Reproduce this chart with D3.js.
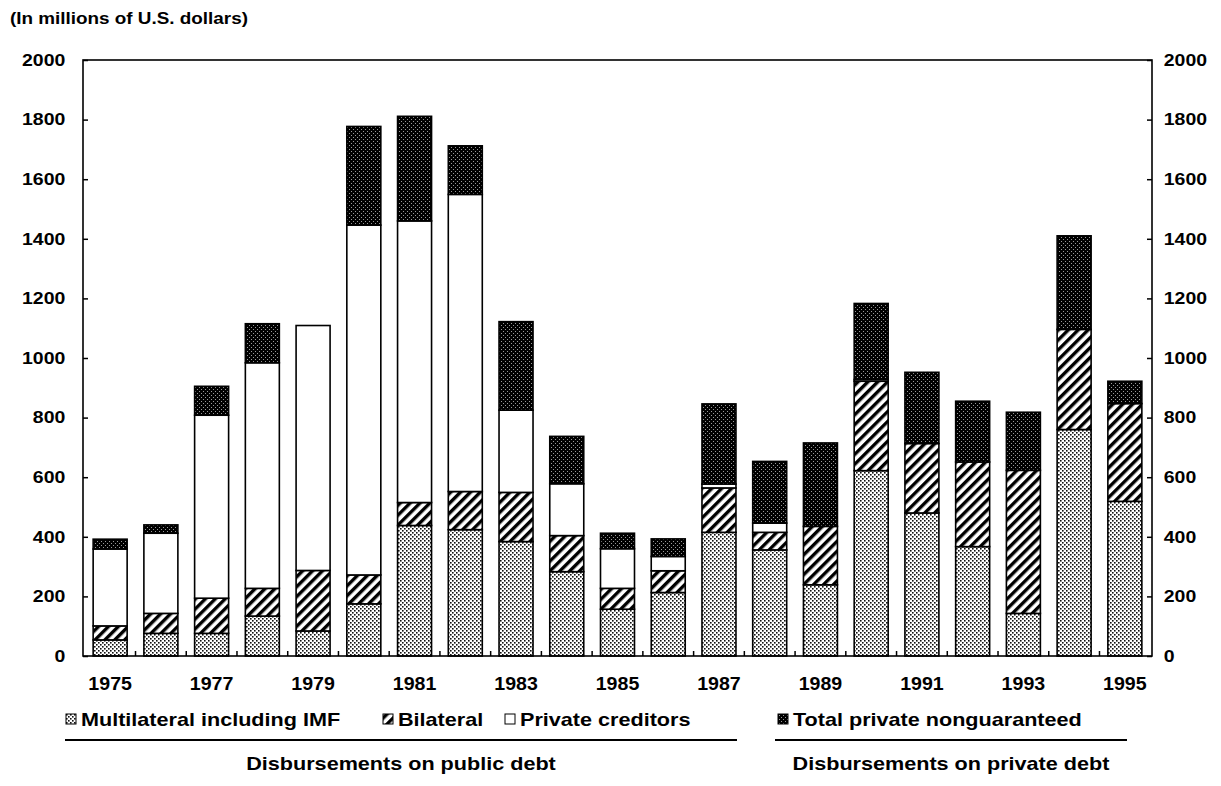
<!DOCTYPE html>
<html>
<head>
<meta charset="utf-8">
<script src="https://cdn.jsdelivr.net/npm/d3@7"></script>
<style>
  html, body { margin: 0; padding: 0; background: #fff; }
  svg { display: block; }
  text { font-family: "Liberation Sans", Arial, sans-serif; font-weight: bold; fill: #000; }
</style>
</head>
<body>
<svg id="chart" width="1221" height="786"></svg>
<script>
// Disbursements by year, in millions of U.S. dollars
const years = d3.range(1975, 1996);
const multilateral = [54, 76, 76, 134, 84, 175, 438, 424, 384, 283, 157, 213, 415, 356, 239, 622, 480, 367, 143, 760, 519];
const bilateral    = [47, 67, 118, 93, 203, 97, 77, 128, 165, 121, 70, 73, 149, 59, 196, 300, 233, 284, 480, 336, 328];
const privateCred  = [258, 269, 614, 757, 822, 1174, 945, 997, 276, 174, 133, 48, 13, 31, 0, 6, 0, 0, 0, 0, 0];
const nonguaranteed = [33, 28, 97, 131, 0, 331, 351, 163, 297, 159, 52, 59, 269, 207, 280, 255, 239, 204, 195, 314, 75];

const seriesKeys = ["multi", "bil", "priv", "ng"];
const seriesNames = ["Multilateral including IMF", "Bilateral", "Private creditors", "Total private nonguaranteed"];
const yTicks = d3.range(0, 2001, 200);
const yearLabels = years.filter(y => y % 2 === 1);
const groupLabels = ["Disbursements on public debt", "Disbursements on private debt"];

const rows = years.map((yr, i) => ({
  year: yr, multi: multilateral[i], bil: bilateral[i], priv: privateCred[i], ng: nonguaranteed[i]
}));

const svg = d3.select("#chart");
const SX = 1.18; // horizontal stretch of the lettering

// Plot frame
const plotL = 83, plotR = 1152, plotT = 60, plotB = 656;

const x = d3.scaleBand().domain(years).range([plotL, plotR]).paddingInner(0.33).paddingOuter(0.2);
const y = d3.scaleLinear().domain([0, 2000]).range([plotB, plotT]);

// Fill patterns
const defs = svg.append("defs");
const pMulti = defs.append("pattern").attr("id", "pMulti").attr("patternUnits", "userSpaceOnUse")
  .attr("width", 4).attr("height", 4);
pMulti.append("rect").attr("width", 4).attr("height", 4).attr("fill", "#fff");
pMulti.append("rect").attr("x", 0).attr("y", 0).attr("width", 1.6).attr("height", 1.6).attr("fill", "#111");
pMulti.append("rect").attr("x", 2).attr("y", 2).attr("width", 1.6).attr("height", 1.6).attr("fill", "#111");

const pBil = defs.append("pattern").attr("id", "pBil").attr("patternUnits", "userSpaceOnUse")
  .attr("width", 7).attr("height", 7).attr("patternTransform", "rotate(45)");
pBil.append("rect").attr("width", 7).attr("height", 7).attr("fill", "#fff");
pBil.append("rect").attr("width", 3.4).attr("height", 7).attr("fill", "#000");

const pNg = defs.append("pattern").attr("id", "pNg").attr("patternUnits", "userSpaceOnUse")
  .attr("width", 4).attr("height", 4);
pNg.append("rect").attr("width", 4).attr("height", 4).attr("fill", "#000");
pNg.append("rect").attr("x", 1).attr("y", 1).attr("width", 1).attr("height", 1).attr("fill", "#fff").attr("opacity", 0.6);
pNg.append("rect").attr("x", 3).attr("y", 3).attr("width", 1).attr("height", 1).attr("fill", "#fff").attr("opacity", 0.6);

const fills = { multi: "url(#pMulti)", bil: "url(#pBil)", priv: "#fff", ng: "url(#pNg)" };

// Stacked bars
const stacked = d3.stack().keys(seriesKeys)(rows);
svg.append("g").selectAll("g").data(stacked).join("g")
  .attr("fill", d => fills[d.key])
  .selectAll("rect").data(d => d.filter(s => s[1] - s[0] > 0)).join("rect")
  .attr("x", d => x(d.data.year))
  .attr("width", x.bandwidth())
  .attr("y", d => y(d[1]))
  .attr("height", d => y(d[0]) - y(d[1]))
  .attr("stroke", "#000")
  .attr("stroke-width", 1.6);

// Frame
svg.append("rect").attr("x", plotL).attr("y", plotT).attr("width", plotR - plotL).attr("height", plotB - plotT)
  .attr("fill", "none").attr("stroke", "#000").attr("stroke-width", 1.6);

// Left and right value axes, ticks pointing inward
function styleAxis(g, anchor) {
  g.select(".domain").remove();
  g.selectAll(".tick line").attr("stroke", "#000").attr("stroke-width", 1.5);
  g.selectAll(".tick text")
    .style("font-size", "16.5px")
    .attr("text-anchor", anchor)
    .attr("transform", `scale(${SX},1)`);
}
svg.append("g").attr("transform", `translate(${plotL},0)`)
  .call(d3.axisLeft(y).tickValues(yTicks).tickSize(-5).tickPadding(15).tickFormat(d3.format("d")))
  .call(g => styleAxis(g, "end"));
svg.append("g").attr("transform", `translate(${plotR},0)`)
  .call(d3.axisRight(y).tickValues(yTicks).tickSize(-5).tickPadding(10).tickFormat(d3.format("d")))
  .call(g => styleAxis(g, "start"));

// Year labels
const xAxis = svg.append("g").attr("transform", `translate(0,${plotB})`)
  .call(d3.axisBottom(x).tickValues(yearLabels).tickSize(0).tickPadding(22));
xAxis.select(".domain").remove();
xAxis.selectAll(".tick text").style("font-size", "17.5px")
  .attr("transform", "scale(1.12,1)");

// Tick marks between bars along the base line
const step = x.step();
const boundaries = years.slice(1).map(yr => x(yr) - step * x.paddingInner() / 2);
svg.append("g").selectAll("line").data(boundaries).join("line")
  .attr("x1", d => d).attr("x2", d => d)
  .attr("y1", plotB).attr("y2", plotB - 5)
  .attr("stroke", "#000").attr("stroke-width", 1.5);

// Stretched text helper
function label(txt, px, py, size, anchor, sx) {
  return svg.append("text")
    .attr("transform", `translate(${px},${py}) scale(${sx || SX},1)`)
    .attr("text-anchor", anchor || "start")
    .style("font-size", size + "px")
    .text(txt);
}

// Unit note
label("(In millions of U.S. dollars)", 10, 24, 16);

// Legend
const legendX = [66, 383, 505, 778];
const legendFills = [fills.multi, fills.bil, fills.priv, fills.ng];
seriesNames.forEach((name, i) => {
  svg.append("rect").attr("x", legendX[i]).attr("y", 714).attr("width", 10).attr("height", 10)
    .attr("fill", legendFills[i]).attr("stroke", "#000").attr("stroke-width", 1);
  label(name, legendX[i] + 15, 726, 18, "start", 1.2);
});

// Group rules and captions
const groups = [[65, 737], [775, 1127]];
groups.forEach((g, i) => {
  svg.append("line").attr("x1", g[0]).attr("x2", g[1]).attr("y1", 740).attr("y2", 740)
    .attr("stroke", "#000").attr("stroke-width", 2.2);
  label(groupLabels[i], (g[0] + g[1]) / 2, 770, 18, "middle", 1.2);
});
</script>
</body>
</html>
